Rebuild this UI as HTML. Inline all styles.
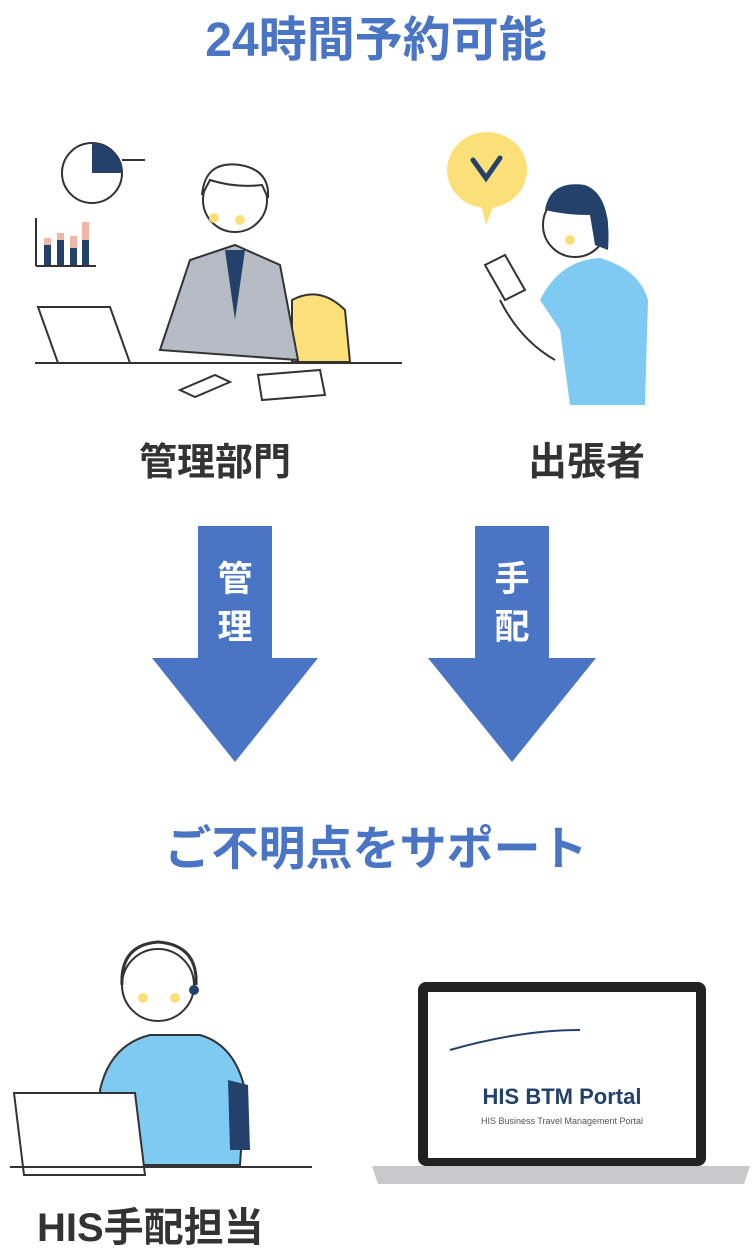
<!DOCTYPE html>
<html><head><meta charset="utf-8"><style>
body{margin:0;width:752px;height:1244px;background:#fff;position:relative;overflow:hidden;font-family:"Liberation Sans","Noto Sans CJK JP",sans-serif;}
.t{position:absolute;font-weight:bold;white-space:nowrap;}
</style></head><body>
<div class="t" style="left:0;width:752px;top:0px;text-align:center;font-size:48px;color:#4a74c4;">24時間予約可能</div>

<svg width="752" height="1244" style="position:absolute;left:0;top:0">
 <circle cx="92" cy="173" r="30" fill="#fff" stroke="#333" stroke-width="2"/>
 <path d="M92 173 L92 143 A30 30 0 0 1 122 173 Z" fill="#24416b"/>
 <line x1="122" y1="160" x2="145" y2="160" stroke="#333" stroke-width="2"/>
 <line x1="36" y1="218" x2="36" y2="266" stroke="#333" stroke-width="2"/>
 <line x1="36" y1="266" x2="96" y2="266" stroke="#333" stroke-width="2"/>
 <rect x="44" y="245" width="7" height="20" fill="#24416b"/><rect x="44" y="238" width="7" height="7" fill="#f0b6a6"/>
 <rect x="57" y="240" width="7" height="25" fill="#24416b"/><rect x="57" y="233" width="7" height="7" fill="#f0b6a6"/>
 <rect x="70" y="248" width="7" height="17" fill="#24416b"/><rect x="70" y="236" width="7" height="12" fill="#f0b6a6"/>
 <rect x="82" y="240" width="7" height="25" fill="#24416b"/><rect x="82" y="222" width="7" height="18" fill="#f0b6a6"/>
 <path d="M292 362 L292 300 Q320 285 345 310 L350 362 Z" fill="#fbe07a" stroke="#333" stroke-width="2"/>
 <path d="M160 350 L190 260 L235 245 L280 265 L298 360 Z" fill="#b7bcc4" stroke="#333" stroke-width="2"/>
 <path d="M225 250 L235 320 L245 250 Z" fill="#24416b"/>
 <circle cx="235" cy="200" r="32" fill="#fff" stroke="#333" stroke-width="2"/>
 <path d="M202 195 Q205 160 240 165 Q270 170 268 198 L262 185 Q235 188 210 180 Z" fill="#fff" stroke="#333" stroke-width="2"/>
 <circle cx="214" cy="218" r="5" fill="#fbe07a"/><circle cx="240" cy="220" r="5" fill="#fbe07a"/>
 <line x1="35" y1="363" x2="402" y2="363" stroke="#333" stroke-width="2"/>
 <path d="M38 307 L110 307 L130 363 L58 363 Z" fill="#fff" stroke="#333" stroke-width="2"/>
 <path d="M180 390 L215 375 L230 382 L195 397 Z" fill="#fff" stroke="#333" stroke-width="2"/>
 <path d="M258 375 L320 370 L325 395 L262 400 Z" fill="#fff" stroke="#333" stroke-width="2"/>
 <ellipse cx="487" cy="170" rx="40" ry="38" fill="#fbe07a"/>
 <path d="M480 200 L486 225 L496 200 Z" fill="#fbe07a"/>
 <path d="M473 160 L486 178 L500 158" fill="none" stroke="#24416b" stroke-width="5" stroke-linecap="round"/>
 <path d="M540 300 Q560 260 600 258 Q640 270 648 300 L645 405 L570 405 L560 330 Z" fill="#7fcaf3"/>
 <circle cx="575" cy="225" r="32" fill="#fff" stroke="#333" stroke-width="2"/>
 <path d="M545 210 Q550 180 585 185 Q612 195 608 250 L595 245 L590 215 Q565 215 545 210 Z" fill="#24416b"/>
 <circle cx="570" cy="240" r="5" fill="#fbe07a"/>
 <path d="M485 265 L505 255 L525 290 L505 300 Z" fill="#fff" stroke="#333" stroke-width="2"/>
 <path d="M500 300 Q520 340 555 360" fill="none" stroke="#333" stroke-width="2"/>
 <rect x="198" y="526" width="74" height="136" fill="#4a74c4"/>
 <polygon points="152,658 318,658 235,762" fill="#4a74c4"/>
 <rect x="475" y="526" width="74" height="136" fill="#4a74c4"/>
 <polygon points="428,658 596,658 512,762" fill="#4a74c4"/>
 <path d="M100 1090 Q110 1045 150 1035 L200 1035 Q235 1045 245 1090 L240 1165 L105 1165 Z" fill="#7fcaf3" stroke="#333" stroke-width="2"/>
 <path d="M228 1080 L248 1085 L250 1150 L230 1150 Z" fill="#24416b"/>
 <circle cx="158" cy="985" r="36" fill="#fff" stroke="#333" stroke-width="2"/>
 <path d="M122 985 Q120 945 158 942 Q198 945 196 985" fill="none" stroke="#333" stroke-width="3"/>
 <circle cx="194" cy="990" r="5" fill="#24416b"/>
 <circle cx="143" cy="998" r="5" fill="#fbe07a"/><circle cx="175" cy="998" r="5" fill="#fbe07a"/>
 <path d="M14 1093 L135 1093 L145 1175 L24 1175 Z" fill="#fff" stroke="#333" stroke-width="2"/>
 <line x1="10" y1="1167" x2="312" y2="1167" stroke="#333" stroke-width="2"/>
 <rect x="418" y="982" width="288" height="184" rx="8" fill="#222"/>
 <rect x="428" y="992" width="268" height="166" fill="#fff"/>
 <path d="M372 1166 L750 1166 L744 1184 L378 1184 Z" fill="#c8c8cc"/>
 <path d="M450 1050 Q520 1030 580 1030" fill="none" stroke="#24416b" stroke-width="2"/>
 <text x="562" y="1104" text-anchor="middle" font-size="22" font-weight="bold" fill="#24416b" font-family="Liberation Sans">HIS BTM Portal</text>
 <text x="562" y="1124" text-anchor="middle" font-size="9" fill="#555" font-family="Liberation Sans">HIS Business Travel Management Portal</text>
</svg>

<div class="t" style="left:139px;top:431px;font-size:38px;color:#333;">管理部門</div>
<div class="t" style="left:528px;top:431px;font-size:39px;color:#333;">出張者</div>
<div class="t" style="left:198px;top:556px;width:74px;text-align:center;font-size:35px;line-height:48px;color:#fff;">管<br>理</div>
<div class="t" style="left:475px;top:556px;width:74px;text-align:center;font-size:35px;line-height:48px;color:#fff;">手<br>配</div>
<div class="t" style="left:0;width:752px;top:810px;text-align:center;font-size:47px;color:#4a74c4;">ご不明点をサポート</div>
<div class="t" style="left:37px;top:1195px;font-size:40px;color:#333;">HIS手配担当</div>
</body></html>
